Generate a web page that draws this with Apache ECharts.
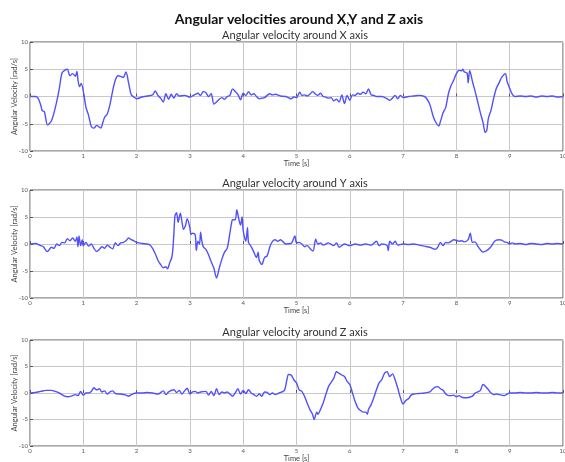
<!DOCTYPE html>
<html>
<head>
<meta charset="utf-8">
<script src="https://cdn.jsdelivr.net/npm/echarts@6/dist/echarts.min.js"></script>
<style>html,body{margin:0;padding:0;background:#fff}#c{width:565px;height:462px}</style>
</head>
<body>
<div id="c"></div>
<script>
var mainTitle = 'Angular velocities around X,Y and Z axis';
var subTitles = ['Angular velocity around X axis', 'Angular velocity around Y axis', 'Angular velocity around Z axis'];
var xName = 'Time [s]';
var yName = 'Angular Velocity [rad/s]';
var xTicks = [0,1,2,3,4,5,6,7,8,9,10];
var yTicks = [-10,-5,0,5,10];

var omegaX = [[0,0],[0.1,0],[0.15,-0.3],[0.2,-1.5],[0.23,-2.6],[0.27,-2.8],[0.33,-5.2],[0.4,-4.5],[0.45,-3],[0.5,-1],[0.55,1.5],[0.6,4.3],[0.65,4.8],[0.7,5.0],[0.75,3.8],[0.8,4.2],[0.85,3.7],[0.88,4.6],[0.9,3],[0.93,1.8],[0.96,2.4],[1.0,1.0],[1.05,-2],[1.1,-3.5],[1.15,-5.5],[1.2,-5.8],[1.25,-5.3],[1.3,-5.6],[1.33,-5.8],[1.36,-5],[1.4,-3.8],[1.45,-3.2],[1.5,-1.5],[1.55,1],[1.6,3],[1.65,3.8],[1.7,3.7],[1.75,3.5],[1.8,4.5],[1.85,2.5],[1.9,0.3],[1.95,-0.1],[2.0,-0.4],[2.1,-0.1],[2.2,0.1],[2.3,0.3],[2.35,1],[2.4,0.2],[2.45,-0.3],[2.5,-1.0],[2.55,0.5],[2.6,-0.5],[2.65,0.4],[2.7,-0.3],[2.75,0.5],[2.8,0.1],[2.9,0.2],[3.0,-0.1],[3.1,0.4],[3.15,0.6],[3.2,0.2],[3.25,0.9],[3.3,0.7],[3.35,0],[3.4,0.5],[3.45,-1.4],[3.5,-1],[3.55,-0.5],[3.6,-0.2],[3.65,-0.5],[3.7,0],[3.75,0.2],[3.8,1.4],[3.85,0.9],[3.9,0.4],[3.95,-0.6],[4.0,0.6],[4.05,0.2],[4.1,0.9],[4.15,0.3],[4.2,0.5],[4.25,0],[4.3,-0.4],[4.35,-0.3],[4.4,-0.2],[4.5,0.5],[4.55,0.3],[4.6,0.4],[4.7,0.1],[4.8,0],[4.9,-0.4],[4.95,-0.1],[5.0,-0.2],[5.06,0.8],[5.1,0.2],[5.15,0.3],[5.2,0.1],[5.25,0.4],[5.3,0.9],[5.35,0.5],[5.4,0.2],[5.45,0.6],[5.5,0],[5.55,-0.1],[5.6,-0.3],[5.65,-0.2],[5.7,-0.8],[5.75,-0.5],[5.8,-1],[5.85,0.3],[5.9,-1.3],[5.95,0.2],[6.0,-0.7],[6.05,0.3],[6.1,0.2],[6.15,0.6],[6.2,0.4],[6.25,0.8],[6.3,0.5],[6.35,1.4],[6.4,0.3],[6.45,0.2],[6.5,0],[6.6,0],[6.7,-0.4],[6.75,-0.7],[6.8,-0.3],[6.85,0.2],[6.9,-0.4],[6.95,0.2],[7.0,-0.2],[7.1,0],[7.2,0.1],[7.3,0.2],[7.4,0],[7.45,-0.5],[7.5,-1.4],[7.56,-3.5],[7.6,-4.5],[7.67,-5.4],[7.7,-4.6],[7.75,-3],[7.8,-2],[7.85,0.5],[7.9,2],[7.95,3],[8.0,4.2],[8.05,4.8],[8.1,4.7],[8.12,5.0],[8.15,4.5],[8.2,4.3],[8.22,2.5],[8.25,4.8],[8.3,2.8],[8.35,1],[8.4,-1],[8.45,-3],[8.5,-4.8],[8.54,-6.6],[8.57,-6.2],[8.6,-4],[8.65,-2.5],[8.7,-0.3],[8.75,1.5],[8.8,2.5],[8.85,3.5],[8.92,4.2],[8.95,2.8],[9.0,1.5],[9.05,0.4],[9.1,0],[9.2,0.1],[9.3,0],[9.4,0.1],[9.5,-0.1],[9.6,0.1],[9.7,0],[9.8,0.1],[9.9,-0.1],[10,0]];

var omegaY = [[0,0],[0.1,0.1],[0.2,-0.3],[0.25,-0.5],[0.3,-1.2],[0.33,-1.4],[0.4,-0.6],[0.45,-0.8],[0.5,0],[0.55,-0.3],[0.6,0.3],[0.65,0.2],[0.7,1],[0.75,0.6],[0.8,1.1],[0.85,0.5],[0.88,1.3],[0.9,-0.5],[0.92,1.5],[0.95,-0.3],[0.98,0.8],[1.0,-0.3],[1.05,0.3],[1.1,-0.4],[1.15,0],[1.2,-0.8],[1.25,-1.4],[1.3,-1],[1.35,-0.5],[1.4,-0.8],[1.45,-0.2],[1.5,-0.6],[1.55,-0.9],[1.6,0.2],[1.65,-0.3],[1.7,0.2],[1.75,0.3],[1.8,0.6],[1.85,1.1],[1.9,0.8],[1.95,0.6],[2.0,0.3],[2.1,0.1],[2.2,0],[2.25,-0.2],[2.3,-0.8],[2.35,-1.8],[2.4,-3],[2.45,-3.8],[2.5,-4.4],[2.55,-4.2],[2.58,-4.6],[2.62,-3.5],[2.66,-2.5],[2.68,-1],[2.7,2],[2.72,5.2],[2.75,5.8],[2.78,4],[2.82,5.7],[2.85,4.2],[2.88,2.7],[2.92,3.5],[2.95,4.7],[3.0,3],[3.02,1.8],[3.05,2.0],[3.1,1.7],[3.12,-1.2],[3.15,0.5],[3.18,0],[3.2,2.2],[3.22,0.8],[3.25,-0.5],[3.3,-1],[3.35,-2],[3.4,-3.3],[3.45,-4.5],[3.5,-6.3],[3.55,-4.5],[3.6,-2.8],[3.65,-1.5],[3.7,-0.8],[3.75,2],[3.78,3.8],[3.8,4.5],[3.85,4.5],[3.88,6.3],[3.92,4.5],[3.95,3.5],[3.98,5],[4.0,2.5],[4.05,0.5],[4.08,3],[4.1,0.3],[4.15,-0.5],[4.2,-1.5],[4.25,-2.5],[4.28,-1.5],[4.3,-3],[4.35,-3.8],[4.4,-2.5],[4.45,-2.2],[4.5,-0.5],[4.55,0.5],[4.6,0.8],[4.65,0.5],[4.7,0.8],[4.75,0.4],[4.8,0],[4.9,0.1],[4.97,1.5],[5.0,0.2],[5.05,0.3],[5.1,0],[5.15,-0.5],[5.2,-0.3],[5.25,-0.8],[5.31,-1.3],[5.36,0.9],[5.4,0],[5.45,0.2],[5.5,-0.2],[5.6,0.2],[5.7,-0.3],[5.75,0.2],[5.8,-0.6],[5.9,0],[6.0,-0.3],[6.1,0],[6.2,-0.2],[6.3,0],[6.4,-0.2],[6.5,0.5],[6.55,-0.3],[6.6,0],[6.7,-0.3],[6.72,-1.2],[6.75,0.5],[6.8,0],[6.85,0.5],[6.9,-0.2],[7.0,0],[7.1,-0.1],[7.2,0],[7.3,-0.2],[7.4,-0.4],[7.5,-0.6],[7.6,-1],[7.65,-0.6],[7.7,0.3],[7.75,-0.3],[7.8,0.3],[7.85,0.2],[7.9,0.5],[7.95,0.8],[8.0,0.7],[8.05,0.5],[8.1,0.6],[8.15,0.4],[8.22,0.8],[8.26,2.0],[8.3,0.3],[8.35,0.4],[8.4,-0.4],[8.47,-1.3],[8.5,-1.5],[8.55,-1.3],[8.6,-1],[8.65,-0.5],[8.7,0.3],[8.75,0.7],[8.8,0.8],[8.85,0.7],[8.9,0.4],[8.95,0.3],[9.0,0],[9.05,0.2],[9.1,0],[9.2,0.1],[9.3,-0.1],[9.4,0.1],[9.5,0],[9.6,-0.1],[9.7,0.1],[9.8,0],[9.9,0.1],[10,0]];

var omegaZ = [[0,0],[0.1,0.1],[0.2,0.3],[0.3,0.5],[0.4,0.5],[0.5,0.2],[0.55,0],[0.6,-0.3],[0.65,-0.6],[0.7,-0.7],[0.8,-0.5],[0.85,-0.3],[0.9,-0.5],[0.95,0.3],[1.0,-0.4],[1.05,0],[1.1,0],[1.15,0.3],[1.2,1.0],[1.25,0.6],[1.3,0.8],[1.35,0.2],[1.4,0.4],[1.45,-0.2],[1.5,0.2],[1.55,0.4],[1.6,-0.1],[1.7,-0.2],[1.8,-0.4],[1.85,-0.6],[1.9,-0.3],[2.0,0],[2.1,0],[2.2,0.1],[2.3,0],[2.4,-0.2],[2.5,0.4],[2.55,-0.3],[2.6,0.2],[2.7,0.6],[2.75,0.1],[2.8,0.5],[2.85,-0.2],[2.9,0.4],[2.95,0.9],[3.0,-0.2],[3.05,0.2],[3.1,0.3],[3.15,0],[3.2,0.2],[3.3,0.3],[3.35,-0.4],[3.4,0.3],[3.45,-0.5],[3.5,0.8],[3.55,-0.3],[3.6,0.2],[3.65,0],[3.7,0.2],[3.75,-0.2],[3.8,-0.6],[3.85,0],[3.9,0.8],[3.95,-0.2],[4.0,0.5],[4.05,-0.1],[4.1,0.6],[4.15,0],[4.2,-0.3],[4.25,-0.6],[4.3,-0.2],[4.35,-0.6],[4.4,0.2],[4.45,0.1],[4.5,-0.3],[4.55,0],[4.6,-0.3],[4.65,-0.1],[4.7,0.1],[4.75,0.3],[4.78,0.6],[4.82,2.5],[4.85,3.5],[4.9,3.4],[4.95,2.5],[5.0,1.9],[5.05,0.6],[5.1,0.3],[5.15,-0.6],[5.2,-1.9],[5.25,-3.1],[5.3,-4],[5.33,-5],[5.38,-3.6],[5.4,-4],[5.45,-3.1],[5.5,-1.9],[5.55,-0.3],[5.6,1.2],[5.65,2],[5.7,2.8],[5.75,4],[5.8,3.7],[5.85,3.4],[5.9,3.1],[5.95,2.2],[6.0,1.6],[6.05,0],[6.1,-1.6],[6.15,-2.8],[6.2,-3.3],[6.25,-3.6],[6.3,-3.6],[6.33,-4],[6.35,-3.1],[6.4,-2.2],[6.45,-0.9],[6.5,0.6],[6.55,1.9],[6.6,2.5],[6.65,3.7],[6.7,4],[6.75,3.1],[6.8,3.6],[6.85,2.5],[6.9,0.9],[6.95,-0.9],[7.0,-2.1],[7.05,-1.4],[7.1,-1.1],[7.15,-0.4],[7.2,-0.2],[7.3,-0.1],[7.4,0],[7.5,0.2],[7.55,0.7],[7.6,1.1],[7.65,1.2],[7.7,0.8],[7.75,0.5],[7.8,-0.2],[7.85,-0.5],[7.9,-0.5],[7.95,-0.4],[8.0,-0.7],[8.05,-0.5],[8.1,-0.8],[8.2,-0.9],[8.3,-0.6],[8.35,0],[8.4,0.2],[8.45,0.5],[8.5,1.6],[8.55,1.2],[8.6,0.6],[8.65,0],[8.7,-0.3],[8.75,-0.2],[8.8,-0.3],[8.85,-0.4],[8.9,-0.5],[8.95,-0.2],[9.0,0],[9.1,0],[9.2,0.1],[9.3,0],[9.4,0],[9.5,0.1],[9.6,0],[9.7,0],[9.8,0.1],[9.9,0],[10,0]];

var seriesData = [omegaX, omegaY, omegaZ];
var gridTops = [42, 190, 340];
var gridHeights = [109, 108, 106];
var subTitleY = [35, 183, 332];

var chart = echarts.init(document.getElementById('c'), null, {renderer: 'canvas'});
var font = 'Lato, "Open Sans", sans-serif';
var grids = [], xAxes = [], yAxes = [], series = [], graphics = [];
for (var i = 0; i < 3; i++) {
  grids.push({left: 30, right: 2, top: gridTops[i], height: gridHeights[i], show: true, borderColor: '#555', borderWidth: 1, backgroundColor: '#fff', containLabel: false, outerBoundsMode: 'none'});
  xAxes.push({
    type: 'value', gridIndex: i, min: xTicks[0], max: xTicks[xTicks.length - 1], interval: 1,
    name: xName, nameLocation: 'middle', nameGap: 9, nameMoveOverlap: false,
    nameTextStyle: {fontSize: 7.5, color: '#444', fontFamily: font},
    axisLine: {show: false},
    axisTick: {show: true, inside: true, length: 3, lineStyle: {color: '#555'}},
    axisLabel: {fontSize: 6, color: '#555', margin: 2, fontFamily: font},
    splitLine: {show: true, lineStyle: {color: '#c8c8c8', width: 1}}
  });
  yAxes.push({
    type: 'value', gridIndex: i, min: yTicks[0], max: yTicks[yTicks.length - 1], interval: 5,
    name: yName, nameLocation: 'middle', nameGap: 11, nameRotate: 90, nameMoveOverlap: false,
    nameTextStyle: {fontSize: 7.5, color: '#444', fontFamily: font},
    axisLine: {show: false},
    axisTick: {show: true, inside: true, length: 3, lineStyle: {color: '#555'}},
    axisLabel: {fontSize: 6, color: '#555', margin: 2, fontFamily: font},
    splitLine: {show: true, lineStyle: {color: '#c8c8c8', width: 1}}
  });
  series.push({
    type: 'line', xAxisIndex: i, yAxisIndex: i, data: seriesData[i],
    showSymbol: false, symbol: 'none', smooth: 0.3,
    lineStyle: {color: '#5050ff', width: 1.4}, z: 5
  });
  graphics.push({type: 'text', x: 295, y: subTitleY[i], style: {text: subTitles[i], align: 'center', verticalAlign: 'middle', font: '11px ' + font, fill: '#333'}});
}
graphics.push({type: 'text', x: 299, y: 19, style: {text: mainTitle, align: 'center', verticalAlign: 'middle', font: 'bold 14px ' + font, fill: '#111'}});

chart.setOption({
  animation: false,
  backgroundColor: '#fff',
  grid: grids, xAxis: xAxes, yAxis: yAxes, series: series,
  graphic: graphics
});
</script>
</body>
</html>
